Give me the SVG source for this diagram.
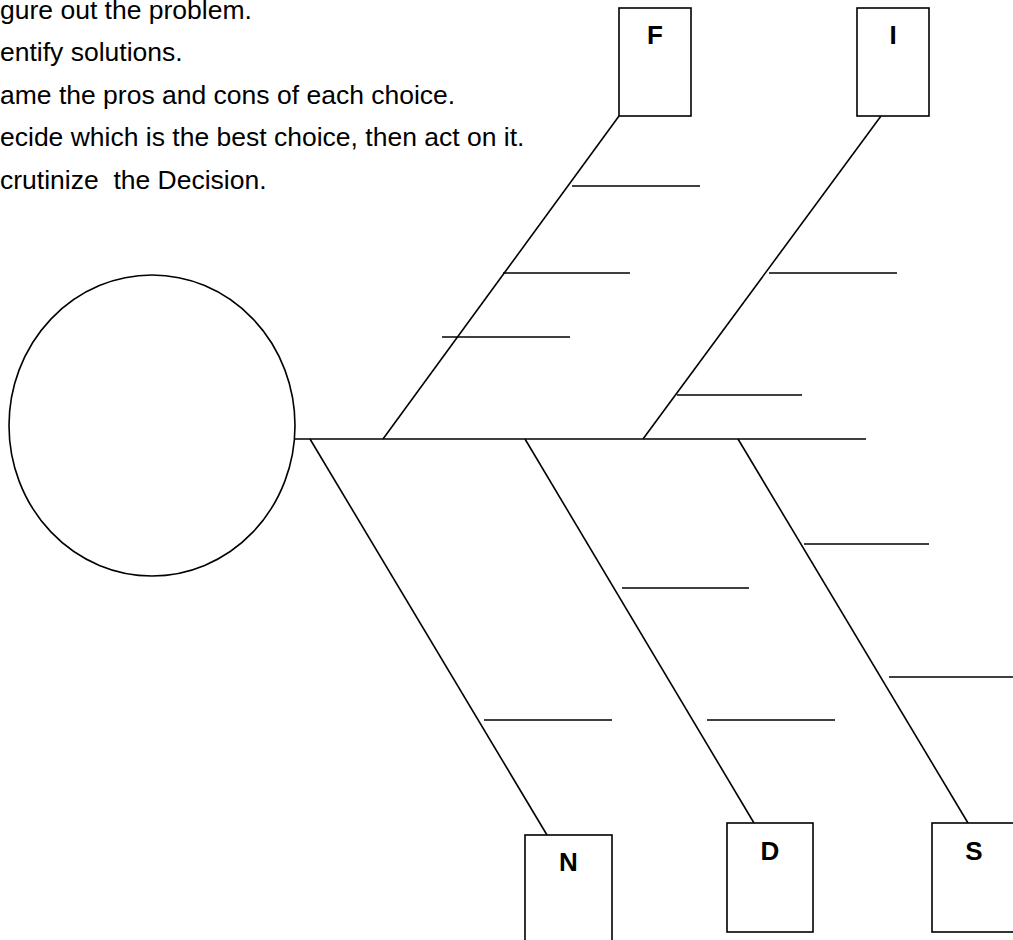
<svg xmlns="http://www.w3.org/2000/svg" width="1013" height="940" viewBox="0 0 1013 940">
<style>
.ln{stroke:#000;stroke-width:1.6;fill:none}
.bx{stroke:#000;stroke-width:1.6;fill:#fff}
.t{font-family:"Liberation Sans",Arial,sans-serif;font-size:26.5px;fill:#000}
.lb{font-family:"Liberation Sans",Arial,sans-serif;font-size:26px;font-weight:bold;fill:#000;text-anchor:middle}
</style>
<rect width="1013" height="940" fill="#fff"/>
<g id="steps">
<text class="t" x="0" y="19">gure out the problem.</text>
<text class="t" x="0" y="61">entify solutions.</text>
<text class="t" x="0" y="104">ame the pros and cons of each choice.</text>
<text class="t" x="0" y="146">ecide which is the best choice, then act on it.</text>
<text class="t" x="0" y="189" xml:space="preserve">crutinize  the Decision.</text>
</g>
<g id="connectors">
<line class="ln" x1="295" y1="439" x2="866" y2="439"/>
<line class="ln" x1="383" y1="439" x2="619" y2="116"/>
<line class="ln" x1="643" y1="439" x2="881" y2="116"/>
<line class="ln" x1="310" y1="439" x2="547" y2="835"/>
<line class="ln" x1="525" y1="439" x2="754" y2="823"/>
<line class="ln" x1="738" y1="439" x2="968" y2="823"/>
<line class="ln" x1="572" y1="186" x2="700" y2="186"/>
<line class="ln" x1="503" y1="273" x2="630" y2="273"/>
<line class="ln" x1="442" y1="337" x2="570" y2="337"/>
<line class="ln" x1="769" y1="273" x2="897" y2="273"/>
<line class="ln" x1="677" y1="395" x2="802" y2="395"/>
<line class="ln" x1="484" y1="720" x2="612" y2="720"/>
<line class="ln" x1="622" y1="588" x2="749" y2="588"/>
<line class="ln" x1="707" y1="720" x2="835" y2="720"/>
<line class="ln" x1="804" y1="544" x2="929" y2="544"/>
<line class="ln" x1="889" y1="677" x2="1013" y2="677"/>
</g>
<g id="head"><ellipse class="ln" cx="152" cy="425.5" rx="143" ry="150.5"/></g>
<g id="F"><rect class="bx" x="619" y="8" width="72" height="108"/><text class="lb" x="655" y="44">F</text></g>
<g id="I"><rect class="bx" x="857" y="8" width="72" height="108"/><text class="lb" x="893" y="44">I</text></g>
<g id="N"><rect class="bx" x="525" y="835" width="87" height="120"/><text class="lb" x="568.5" y="871">N</text></g>
<g id="D"><rect class="bx" x="727" y="823" width="86" height="109"/><text class="lb" x="770" y="860">D</text></g>
<g id="S"><rect class="bx" x="932" y="823" width="86" height="109"/><text class="lb" x="974" y="860">S</text></g>
</svg>
